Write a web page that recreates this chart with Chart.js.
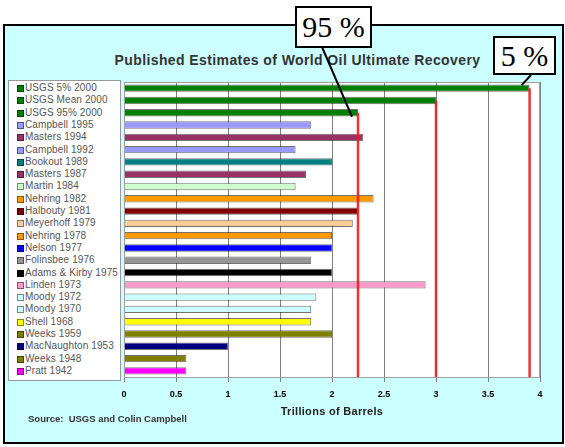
<!DOCTYPE html>
<html>
<head>
<meta charset="utf-8">
<script src="https://cdn.jsdelivr.net/npm/chart.js@4.4.1/dist/chart.umd.min.js"></script>
<style>
  html, body { margin: 0; padding: 0; background: #fff; }
  #wrap { position: relative; width: 565px; height: 447px; overflow: hidden;
          font-family: "Liberation Sans", Arial, sans-serif; }
  #frame { position: absolute; left: 3px; top: 24px; width: 557px; height: 416px;
           border: 2px solid #000; background: #CCFFFF; }
  #chart { position: absolute; left: 0; top: 0; }
  .txt { position: absolute; white-space: nowrap; }
  #title { left: 0; width: 595px; top: 52px; line-height: 16px; text-align: center;
           font-weight: bold; font-size: 14px; letter-spacing: 0.4px; color: #333; }
  #source { left: 28px; top: 413px; line-height: 12px; font-weight: bold; font-size: 9.5px; color: #333; }
  #xtitle { left: 232px; width: 200px; top: 405px; line-height: 13px; text-align: center;
            font-weight: bold; font-size: 11px; letter-spacing: 0.3px; color: #222; }
  #legend { position: absolute; left: 8px; top: 80px; width: 111px; height: 299px;
            border: 1px solid #999; background: #fff; }
  .item { position: absolute; left: 0; height: 12px; line-height: 12px; font-size: 10px;
          letter-spacing: 0.1px; color: #555; white-space: nowrap; }
  .item i { position: absolute; left: 8px; top: 3px; width: 5px; height: 5px;
            border: 1px solid rgba(0,0,0,0.45); }
  .item span { position: absolute; left: 16px; top: 0; }
  .callout { position: absolute; box-sizing: border-box; border: 2px solid #000; background: #fff;
             font-family: "Liberation Serif", "Times New Roman", serif; font-size: 30px;
             text-align: center; color: #000; }
  #c95 { left: 295px; top: 6px; width: 77px; height: 42px; line-height: 38px; }
  #c5 { left: 493px; top: 36px; width: 63px; height: 39px; line-height: 35px; }
</style>
</head>
<body>
<div id="wrap">
  <div id="frame"></div>
  <div id="title" class="txt">Published Estimates of World Oil Ultimate Recovery</div>
  <div id="legend"></div>
  <canvas id="chart" width="565" height="447"></canvas>
  <div id="xtitle" class="txt">Trillions of Barrels</div>
  <div id="source" class="txt">Source:&nbsp; USGS and Colin Campbell</div>
  <div id="c95" class="callout">95 %</div>
  <div id="c5" class="callout">5 %</div>
</div>
<script>
// Published estimates of ultimate recovery, newest first (trillions of barrels)
const estimators = [
  'USGS 5% 2000', 'USGS Mean 2000', 'USGS 95% 2000', 'Campbell 1995', 'Masters 1994',
  'Campbell 1992', 'Bookout 1989', 'Masters 1987', 'Martin 1984', 'Nehring 1982',
  'Halbouty 1981', 'Meyerhoff 1979', 'Nehring 1978', 'Nelson 1977', 'Folinsbee 1976',
  'Adams & Kirby 1975', 'Linden 1973', 'Moody 1972', 'Moody 1970', 'Shell 1968',
  'Weeks 1959', 'MacNaughton 1953', 'Weeks 1948', 'Pratt 1942'
];
const estimates = [
  3.9, 3.0, 2.25, 1.8, 2.3,
  1.65, 2.0, 1.75, 1.65, 2.4,
  2.25, 2.2, 2.0, 2.0, 1.8,
  2.0, 2.9, 1.85, 1.8, 1.8,
  2.0, 1.0, 0.6, 0.6
];
const barColors = [
  '#008000', '#008000', '#008000', '#9999FF', '#993366',
  '#9999FF', '#008080', '#993366', '#CCFFCC', '#FF9900',
  '#800000', '#FFCC99', '#FF9900', '#0000FF', '#969696',
  '#000000', '#FF99CC', '#CCFFFF', '#CCFFFF', '#FFFF00',
  '#808000', '#000080', '#808000', '#FF00FF'
];
// USGS rows that get a red reference line down to the axis
const usgsRows = [0, 1, 2];
// Callout pointers: which USGS row each labelled box points at
const calloutRows = { c95: 2, c5: 0 };

const font = "'Liberation Sans', Arial, sans-serif";

const decor = {
  id: 'decor',
  beforeDraw(chart) {
    const { ctx, chartArea: a } = chart;
    ctx.save();
    ctx.fillStyle = '#fff';
    ctx.fillRect(a.left, a.top, a.right - a.left, a.bottom - a.top);
    ctx.restore();
  },
  afterDatasetsDraw(chart) {
    const { ctx, chartArea: a, scales: { x, y } } = chart;
    ctx.save();
    // red USGS reference lines
    ctx.strokeStyle = 'rgba(235,30,30,0.9)';
    ctx.lineWidth = 2.5;
    usgsRows.forEach(r => {
      const px = x.getPixelForValue(estimates[r]);
      ctx.beginPath();
      ctx.moveTo(px, y.getPixelForValue(r));
      ctx.lineTo(px, a.bottom);
      ctx.stroke();
    });
    // plot area frame
    ctx.strokeStyle = '#a0a0a0';
    ctx.lineWidth = 1;
    ctx.strokeRect(a.left + 0.5, a.top + 0.5, a.right - a.left - 1, a.bottom - a.top);
    // callout pointers
    ctx.strokeStyle = '#000';
    ctx.lineWidth = 2;
    const r95 = calloutRows.c95, r5 = calloutRows.c5;
    ctx.beginPath();
    ctx.moveTo(322, 47);
    ctx.lineTo(x.getPixelForValue(estimates[r95]) - 6, y.getPixelForValue(r95) + 4);
    ctx.stroke();
    ctx.beginPath();
    ctx.moveTo(531, 75);
    ctx.lineTo(x.getPixelForValue(estimates[r5]) - 8, y.getPixelForValue(r5) - 3);
    ctx.stroke();
    ctx.restore();
  }
};

const chart = new Chart(document.getElementById('chart'), {
  type: 'bar',
  data: {
    labels: estimators,
    datasets: [{
      data: estimates,
      backgroundColor: barColors,
      borderColor: 'rgba(0,0,0,0.55)',
      borderWidth: 1,
      barPercentage: 0.6,
      categoryPercentage: 1
    }]
  },
  options: {
    responsive: false,
    animation: false,
    indexAxis: 'y',
    layout: { padding: { left: 124, top: 82, right: 25, bottom: 0 } },
    plugins: { legend: { display: false }, tooltip: { enabled: false } },
    scales: {
      x: {
        min: 0, max: 4,
        ticks: { stepSize: 0.5, color: '#000', padding: 7, maxRotation: 0,
                 font: { family: font, size: 9, weight: 'bold' },
                 callback: v => String(v) },
        grid: { color: '#808080', lineWidth: 1, tickLength: 5, tickColor: '#808080' },
        border: { display: true, color: '#808080' },
        afterFit(s) { s.height = 70; }
      },
      y: {
        ticks: { display: false },
        grid: { display: false },
        border: { display: true, color: '#99AABB' },
        afterFit(s) { s.width = 0; }
      }
    }
  },
  plugins: [decor]
});

// legend rows follow the bar rows on the category scale
const legend = document.getElementById('legend');
const yScale = chart.scales.y;
estimators.forEach((name, i) => {
  const row = document.createElement('div');
  row.className = 'item';
  row.style.top = (yScale.getPixelForValue(i) - 81 - 6) + 'px';
  const sw = document.createElement('i');
  sw.style.background = barColors[i];
  const label = document.createElement('span');
  label.textContent = name;
  row.appendChild(sw);
  row.appendChild(label);
  legend.appendChild(row);
});
</script>
</body>
</html>
